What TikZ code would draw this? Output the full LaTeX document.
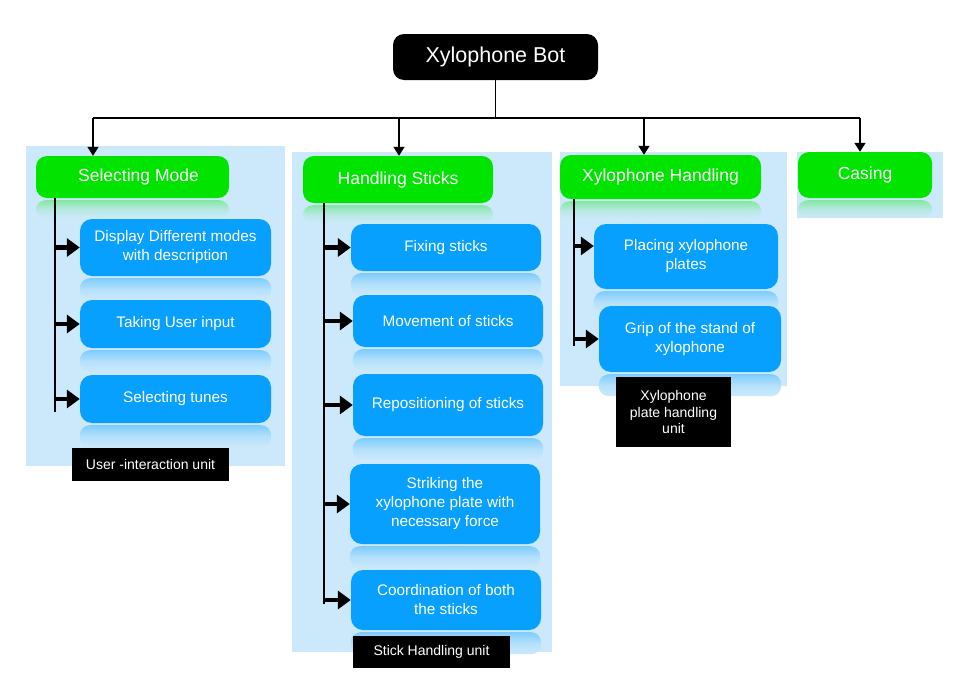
\documentclass[tikz,border=0pt]{standalone}
\usepackage{fontspec}
\setmainfont{Liberation Sans}
\usetikzlibrary{arrows.meta}
\definecolor{panelblue}{RGB}{204,233,251}
\definecolor{boxblue}{RGB}{8,160,255}
\definecolor{boxgreen}{RGB}{0,228,0}
\tikzset{
  panel/.style={fill=panelblue,draw=none},
  rootbox/.style={fill=black,rounded corners=11pt,text=white,font=\fontsize{21.5}{24}\selectfont,minimum width=205pt,minimum height=46pt,inner sep=0pt},
  greenbox/.style={fill=boxgreen,rounded corners=11pt,text=white,font=\fontsize{17.5}{20}\selectfont,inner sep=0pt},
  bluebox/.style={fill=boxblue,rounded corners=12pt,text=white,font=\fontsize{15.3}{19}\selectfont,align=center,inner sep=0pt},
  tagbox/.style={fill=black,text=white,font=\fontsize{14}{16.5}\selectfont,align=center,inner sep=0pt},
  busline/.style={line width=1.6pt},
  busarrow/.style={line width=1.6pt,-{Triangle[length=9pt,width=11pt]}},
  spine/.style={line width=2pt},
  brarrow/.style={line width=4.5pt,-{Triangle[length=13pt,width=18pt]}},
}
\newcommand{\reflB}[1]{\shade[top color=boxblue!40!panelblue,bottom color=panelblue,middle color=boxblue!12!panelblue,rounded corners=10pt]([yshift=-2pt]#1.south west) rectangle ([yshift=-24pt]#1.south east);}
\newcommand{\reflG}[1]{\shade[top color=boxgreen!35!panelblue,bottom color=panelblue,middle color=boxgreen!10!panelblue,rounded corners=10pt]([yshift=-2pt]#1.south west) rectangle ([yshift=-20pt]#1.south east);}
\begin{document}
\begin{tikzpicture}[x=1pt,y=-1pt]
\useasboundingbox (0,0) rectangle (964,680);
% panels
\fill[panel] (26,146) rectangle (285,466);
\fill[panel] (292,152) rectangle (552,652);
\fill[panel] (560,152) rectangle (787,386);
\fill[panel] (797,152) rectangle (943,218);
% coordinates of boxes
\coordinate (pg1) at (132.5,177);
\coordinate (pg2) at (398,179.5);
\coordinate (pg3) at (660.5,177);
\coordinate (pg4) at (865,175);
% invisible shapes first for reflections
\path (pg1) node[minimum width=193pt,minimum height=42pt,inner sep=0pt] (g1) {};
\path (pg2) node[minimum width=190pt,minimum height=47pt,inner sep=0pt] (g2) {};
\path (pg3) node[minimum width=201pt,minimum height=44pt,inner sep=0pt] (g3) {};
\path (pg4) node[minimum width=134pt,minimum height=46pt,inner sep=0pt] (g4) {};
\path (175.5,247.5) node[minimum width=191pt,minimum height=57pt,inner sep=0pt] (a1) {};
\path (175.5,324) node[minimum width=191pt,minimum height=48pt,inner sep=0pt] (a2) {};
\path (175.5,399) node[minimum width=191pt,minimum height=48pt,inner sep=0pt] (a3) {};
\path (446,247.5) node[minimum width=190pt,minimum height=47pt,inner sep=0pt] (b1) {};
\path (448,321) node[minimum width=190pt,minimum height=52pt,inner sep=0pt] (b2) {};
\path (448,405) node[minimum width=190pt,minimum height=62pt,inner sep=0pt] (b3) {};
\path (445,504) node[minimum width=190pt,minimum height=80pt,inner sep=0pt] (b4) {};
\path (446,600) node[minimum width=190pt,minimum height=60pt,inner sep=0pt] (b5) {};
\path (686,256.5) node[minimum width=184pt,minimum height=65pt,inner sep=0pt] (c1) {};
\path (690,339) node[minimum width=182pt,minimum height=66pt,inner sep=0pt] (c2) {};
% reflections
\reflG{g1}\reflG{g2}\reflG{g3}\reflG{g4}
\reflB{a1}\reflB{a2}\reflB{a3}
\reflB{b1}\reflB{b2}\reflB{b3}\reflB{b4}\reflB{b5}
\reflB{c1}\reflB{c2}
% root
\node[rootbox] (root) at (495.5,57) {Xylophone Bot};
% green boxes
\node[greenbox,minimum width=193pt,minimum height=42pt] (G1) at (g1) {\hspace*{12pt}Selecting Mode};
\node[greenbox,minimum width=190pt,minimum height=47pt] (G2) at (g2) {Handling Sticks};
\node[greenbox,minimum width=201pt,minimum height=44pt] (G3) at (g3) {Xylophone Handling};
\node[greenbox,minimum width=134pt,minimum height=46pt] (G4) at (g4) {Casing};
% blue boxes
\node[bluebox,minimum width=191pt,minimum height=57pt] (A1) at (a1) {Display Different modes\\with description};
\node[bluebox,minimum width=191pt,minimum height=48pt] (A2) at (a2) {Taking User input};
\node[bluebox,minimum width=191pt,minimum height=48pt] (A3) at (a3) {Selecting tunes};
\node[bluebox,minimum width=190pt,minimum height=47pt] (B1) at (b1) {Fixing sticks};
\node[bluebox,minimum width=190pt,minimum height=52pt] (B2) at (b2) {Movement of sticks};
\node[bluebox,minimum width=190pt,minimum height=62pt] (B3) at (b3) {Repositioning of sticks};
\node[bluebox,minimum width=190pt,minimum height=80pt] (B4) at (b4) {Striking the\\xylophone plate with\\necessary force};
\node[bluebox,minimum width=190pt,minimum height=60pt] (B5) at (b5) {Coordination of both\\the sticks};
\node[bluebox,minimum width=184pt,minimum height=65pt] (C1) at (c1) {Placing xylophone\\plates};
\node[bluebox,minimum width=182pt,minimum height=66pt] (C2) at (c2) {Grip of the stand of\\xylophone};
% tags
\node[tagbox,minimum width=157pt,minimum height=33pt] (t1) at (150.5,464.5) {User -interaction unit};
\node[tagbox,minimum width=157pt,minimum height=32pt] (t2) at (431.5,652) {Stick Handling unit};
\node[tagbox,minimum width=115pt,minimum height=70pt] (t3) at (673.5,412) {Xylophone\\plate handling\\unit};
% bus
\coordinate (busL) at (93,118);
\coordinate (busR) at (860,118);
\coordinate (busM2) at (399,118);
\coordinate (busM3) at (644,118);
\draw[busline] (root.south) -- (root.south |- busL);
\draw[busline] (busL) -- (busR);
\draw[busarrow] (busL) -- (busL |- G1.north);
\draw[busarrow] (busM2) -- (busM2 |- G2.north);
\draw[busarrow] (busM3) -- (busM3 |- G3.north);
\draw[busarrow] (busR) -- (busR |- G4.north);
% spines
\coordinate (s1top) at (55,198);
\coordinate (s1bot) at (55,412);
\draw[spine] (s1top) -- (s1bot);
\draw[brarrow] (s1top |- A1.west) -- (A1.west);
\draw[brarrow] (s1top |- A2.west) -- (A2.west);
\draw[brarrow] (s1top |- A3.west) -- (A3.west);
\coordinate (s2top) at (324,203);
\coordinate (s2bot) at (324,604);
\draw[spine] (s2top) -- (s2bot);
\draw[brarrow] (s2top |- B1.west) -- (B1.west);
\draw[brarrow] (s2top |- B2.west) -- (B2.west);
\draw[brarrow] (s2top |- B3.west) -- (B3.west);
\draw[brarrow] (s2top |- B4.west) -- (B4.west);
\draw[brarrow] (s2top |- B5.west) -- (B5.west);
\coordinate (s3top) at (574,199);
\coordinate (s3bot) at (574,346);
\coordinate (s3a) at (574,246);
\draw[spine] (s3top) -- (s3bot);
\draw[brarrow] (s3a) -- (s3a -| C1.west);
\draw[brarrow] (s3top |- C2.west) -- (C2.west);
\end{tikzpicture}
\end{document}
